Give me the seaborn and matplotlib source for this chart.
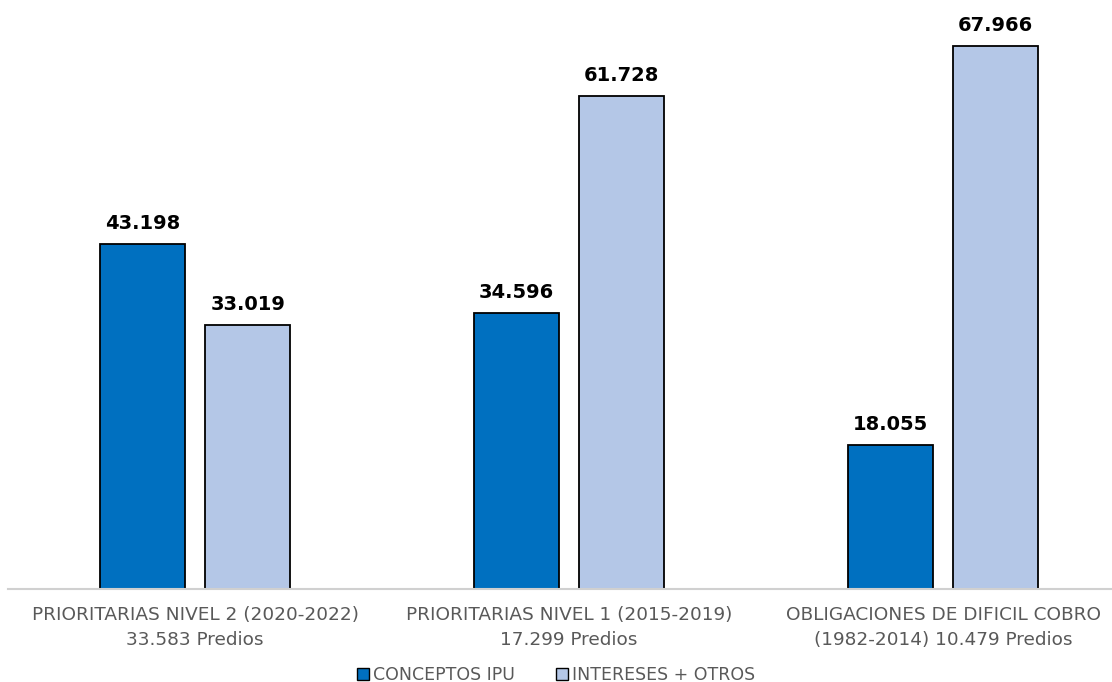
import pandas as pd
import numpy as np
import matplotlib
matplotlib.use("Agg")
import matplotlib.pyplot as plt
import seaborn as sns
from matplotlib.patches import Patch

sns.set_style("white")
plt.rcParams['font.family'] = ['DejaVu Sans']

# datos
categorias = ['PRIORITARIAS NIVEL 2 (2020-2022)\n33.583 Predios',
              'PRIORITARIAS NIVEL 1 (2015-2019)\n17.299 Predios',
              'OBLIGACIONES DE DIFICIL COBRO\n(1982-2014) 10.479 Predios']
series = ['CONCEPTOS IPU', 'INTERESES + OTROS']
conceptos_ipu = [43198, 34596, 18055]
intereses_otros = [33019, 61728, 67966]

colores = ['#0070C0', '#B4C7E7']

df = pd.DataFrame({
    'categoria': categorias * 2,
    'serie': [series[0]] * 3 + [series[1]] * 3,
    'valor': conceptos_ipu + intereses_otros,
})

fig = plt.figure(figsize=(11.12, 6.82), dpi=100)
ax = fig.add_axes([8 / 1112, 93 / 682, 1122 / 1112, 589 / 682])

sns.barplot(data=df, x='categoria', y='valor', hue='serie', palette=colores,
            saturation=1, width=0.564, gap=0.195, edgecolor='black', linewidth=1.3,
            ax=ax, legend=False)

ax.set_ylim(0, 73750)
ax.set_xlim(-0.5, 2.5)
ax.set_yticks([])
ax.set_xlabel('')
ax.set_ylabel('')
for s in ['top', 'right', 'left']:
    ax.spines[s].set_visible(False)
ax.spines['bottom'].set_color('#D0D0D0')
ax.spines['bottom'].set_linewidth(1.5)
ax.tick_params(axis='x', length=0, pad=12, labelsize=13.3, labelcolor='#595959')
for t in ax.get_xticklabels():
    t.set_linespacing(1.5)

# etiquetas de valor
for cont in ax.containers:
    etiquetas = [f"{int(v.get_height()):,}".replace(',', '.') for v in cont]
    ax.bar_label(cont, labels=etiquetas, padding=8, fontsize=14,
                 fontweight='bold', color='black')

handles = [Patch(facecolor=c, edgecolor='black', linewidth=1) for c in colores]
fig.legend(handles, series, loc='center', bbox_to_anchor=(0.5, 7 / 682),
           ncol=2, frameon=False, fontsize=12.5, handlelength=0.7, handleheight=0.7,
           handletextpad=0.2, columnspacing=2.4, labelcolor='#595959')

fig.savefig('out.png', dpi=100)
